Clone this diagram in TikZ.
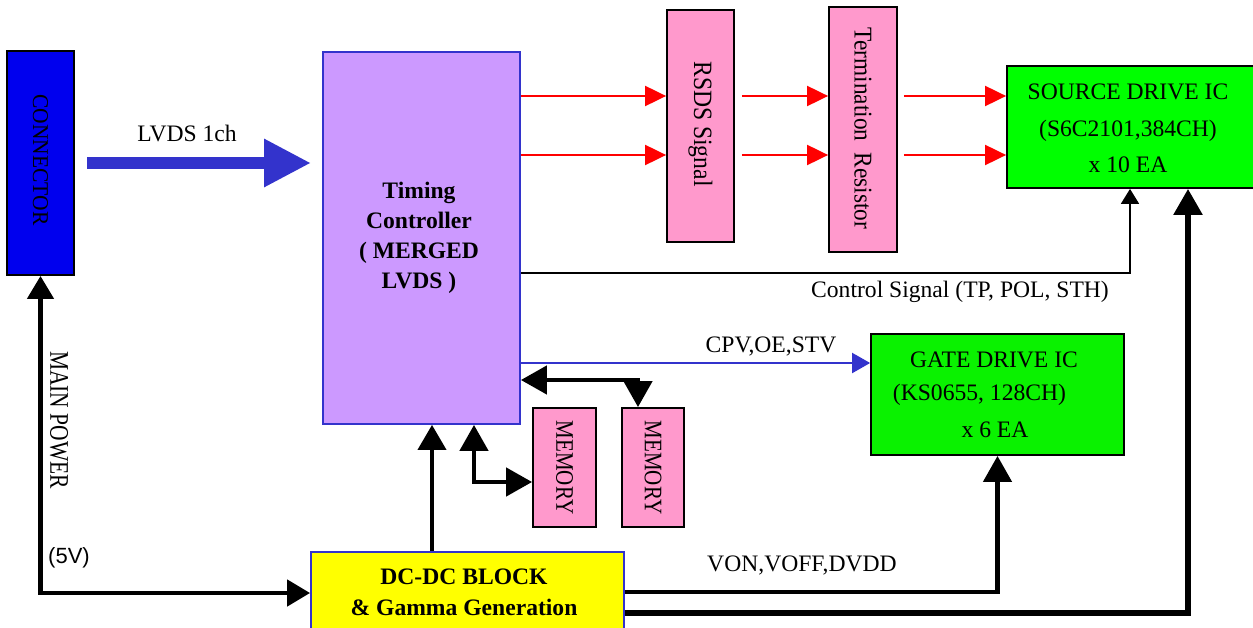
\documentclass[tikz,border=0pt]{standalone}
\usepackage{graphicx}
\usepackage{fontspec}
\setmainfont{Liberation Serif}
\newfontfamily\arialfont{Liberation Sans}
\usetikzlibrary{arrows.meta}
\definecolor{conblue}{RGB}{0,0,238}
\definecolor{lvdsblue}{RGB}{51,51,204}
\definecolor{tcfill}{RGB}{204,153,255}
\definecolor{pinkfill}{RGB}{255,153,204}
\definecolor{srcgreen}{RGB}{0,255,0}
\definecolor{gategreen}{RGB}{10,242,0}
\definecolor{dcyellow}{RGB}{255,255,0}
\tikzset{
  box/.style={rectangle, inner sep=0pt, line width=1.8pt},
  lbl/.style={inner sep=0pt, font=\fontsize{23.6}{28}\selectfont},
  redarr/.style={draw=red, line width=2pt, -{Triangle[length=21pt,width=20pt]}},
  ctlarr/.style={line width=1.8pt, -{Triangle[length=15pt,width=18pt]}},
  cpvarr/.style={draw=lvdsblue, line width=2pt, -{Triangle[length=18pt,width=20pt]}},
  thickarr/.style={line width=4.5pt, {Triangle[length=26pt,width=28pt]}-{Triangle[length=26pt,width=28pt]}},
  uparr/.style={line width=4pt, -{Triangle[length=25pt,width=28pt]}},
  lvdsarr/.style={draw=lvdsblue, line width=12pt, -{Triangle[length=47pt,width=45pt]}},
}
\begin{document}
\begin{tikzpicture}[x=1pt,y=-1pt]
\useasboundingbox (0,0) rectangle (1253,628);
\fill[white] (0,0) rectangle (1253,628);
\clip (0,0) rectangle (1253,628);

% boxes
\node[box, draw=black, fill=conblue, minimum width=67pt, minimum height=224pt] (conn) at (40.5,163) {};
\node[lbl, rotate=-90, font=\fontsize{21.5}{24}\selectfont] (conntxt) at (40.5,160) {\scalebox{1}[1.05]{CONNECTOR}};

\node[box, draw=lvdsblue, fill=tcfill, minimum width=197pt, minimum height=372pt] (tc) at (421.5,238) {};
\node[lbl, align=center, font=\fontsize{23.6}{30}\selectfont\bfseries] (tctxt) at (419,238) {Timing\\Controller\\( MERGED\\LVDS )};

\node[box, draw=black, fill=pinkfill, minimum width=67pt, minimum height=232pt] (rsds) at (700.5,126) {};
\node[lbl, rotate=-90] (rsdstxt) at (700.5,124) {\scalebox{1}[1.12]{RSDS Signal}};

\node[box, draw=black, fill=pinkfill, minimum width=68pt, minimum height=245pt] (term) at (863,129.5) {};
\node[lbl, rotate=-90, font=\fontsize{23.3}{28}\selectfont] (termtxt) at (863,128.5) {\scalebox{1}[1.1]{Termination\hspace{0.25em} Resistor}};

\node[box, draw=black, fill=srcgreen, minimum width=255pt, minimum height=122pt] (src) at (1134.5,127) {};
\node[lbl, align=center, font=\fontsize{23.6}{36.5}\selectfont] (srctxt) at (1128,128.5) {SOURCE DRIVE IC\\(S6C2101,384CH)\\x 10 EA};

\node[box, draw=black, fill=gategreen, minimum width=253pt, minimum height=121pt] (gate) at (997.5,394.5) {};
\node[lbl] (gate1) at (994,360) {GATE DRIVE IC};
\node[lbl] (gate2) at (979.5,395) {(KS0655, 128CH)};
\node[lbl] (gate3) at (995,430) {x 6 EA};

\node[box, draw=black, fill=pinkfill, minimum width=63pt, minimum height=119pt] (mem1) at (564.5,467.5) {};
\node[lbl, rotate=-90, font=\fontsize{21}{24}\selectfont] (mem1txt) at (564.5,467.5) {\scalebox{1}[1.2]{MEMORY}};
\node[box, draw=black, fill=pinkfill, minimum width=62pt, minimum height=119pt] (mem2) at (653,467.5) {};
\node[lbl, rotate=-90, font=\fontsize{21}{24}\selectfont] (mem2txt) at (653,467.5) {\scalebox{1}[1.2]{MEMORY}};

\node[box, draw=lvdsblue, fill=dcyellow, minimum width=313pt, minimum height=88pt] (dcdc) at (467.5,596) {};
\node[lbl, align=center, font=\fontsize{23.6}{31}\selectfont\bfseries] (dctxt) at (464,592.5) {DC-DC BLOCK\\\& Gamma Generation};

% connectors
\coordinate (lvdsstart) at (87,163);
\draw[lvdsarr, shorten >=11pt] (lvdsstart) -- (lvdsstart -| tc.west);
\node[lbl] (lvdslbl) at (187,133) {LVDS 1ch};

\draw[redarr] (tc.east |- 0,96) -- (rsds.west |- 0,96);
\draw[redarr] (tc.east |- 0,155) -- (rsds.west |- 0,155);
\draw[redarr, shorten <=7pt] (rsds.east |- 0,96) -- (term.west |- 0,96);
\draw[redarr, shorten <=7pt] (rsds.east |- 0,155) -- (term.west |- 0,155);
\draw[redarr, shorten <=6pt] (term.east |- 0,96) -- (src.west |- 0,96);
\draw[redarr, shorten <=6pt] (term.east |- 0,155) -- (src.west |- 0,155);

\draw[ctlarr] (tc.east |- 0,273) -| (src.south -| 1130,0);
\node[lbl] (ctllbl) at (960,292) {Control Signal (TP, POL, STH)};

\draw[cpvarr] (tc.east |- 0,363) -- (gate.west |- 0,363);
\node[lbl] (cpvlbl) at (771,347) {CPV,OE,STV};

\draw[thickarr] (tc.east |- 0,380) -| (mem2.north -| 638,0);
\draw[thickarr] (tc.south -| 474,0) |- (mem1.west |- 0,482);
\draw[uparr] (dcdc.north -| 432,0) -- (tc.south -| 432,0);

\draw[line width=4.5pt, {Triangle[length=23pt,width=26pt]}-{Triangle[length=23pt,width=26pt]}] (dcdc.west |- 0,593) -| (conn.south);
\node[lbl, rotate=-90, font=\fontsize{21.5}{24}\selectfont] (mplbl) at (59,420) {\scalebox{1}[1.25]{MAIN POWER}};
\node[lbl, font=\arialfont\fontsize{22}{24}\selectfont] (fivev) at (69,558) {(5V)};

\draw[line width=4.5pt, -{Triangle[length=26pt,width=28pt]}] (dcdc.east |- 0,592) -| (gate.south);
\node[lbl] (vonlbl) at (802,565) {VON,VOFF,DVDD};

\draw[line width=5.5pt, -{Triangle[length=26pt,width=28pt]}] (dcdc.east |- 0,613) -| (src.south -| 1188,0);
\end{tikzpicture}
\end{document}
